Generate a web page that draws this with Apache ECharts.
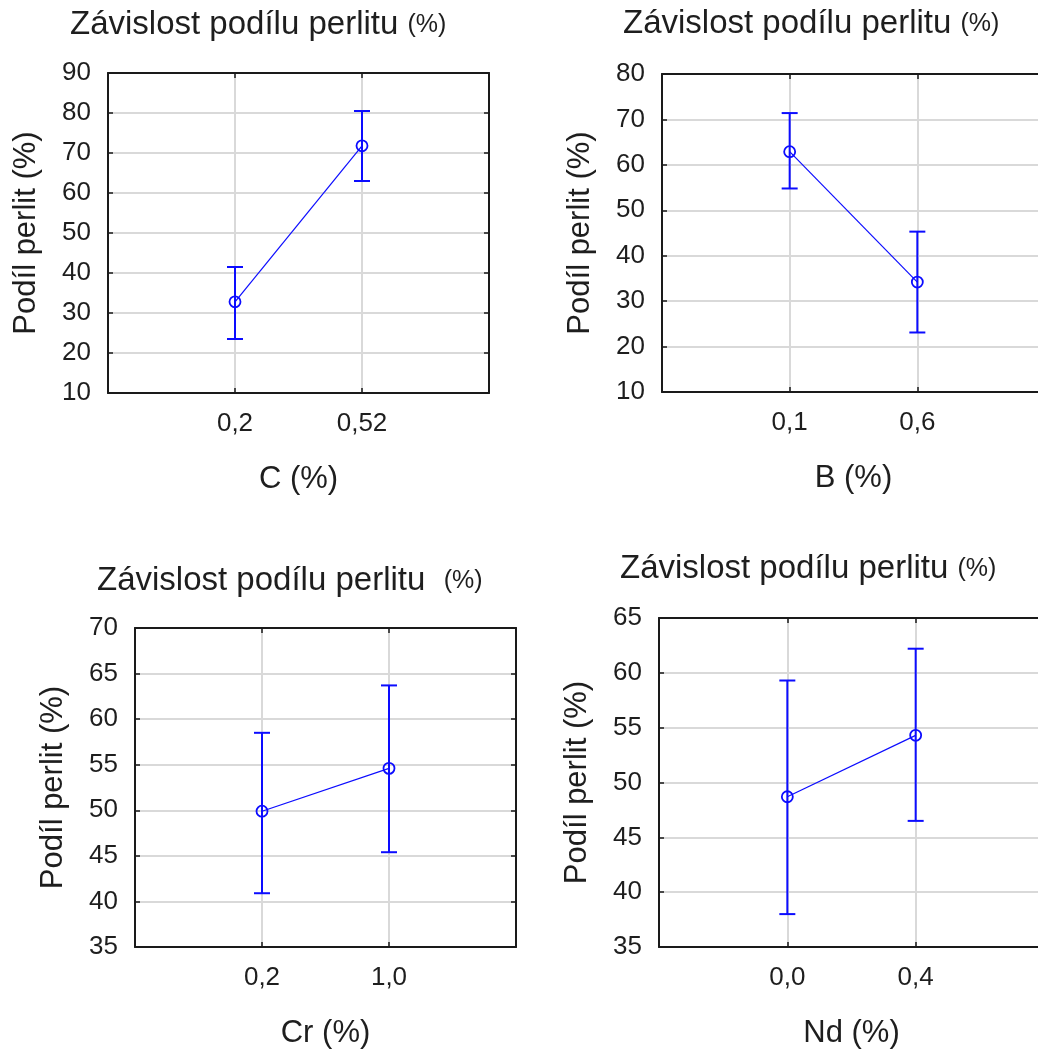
<!DOCTYPE html>
<html>
<head>
<meta charset="utf-8">
<script src="https://cdn.jsdelivr.net/npm/echarts@6/dist/echarts.min.js"></script>
<style>
html,body{margin:0;padding:0;background:#fff;}
#chart{width:1038px;height:1050px;}
</style>
</head>
<body>
<div id="chart"></div>
<script>
// ---- data ----
const titleText = 'Závislost podílu perlitu';
const yName = 'Podíl perlit (%)';

const cCats = ['0,2', '0,52'];
const cMean = [32.8, 71.8];
const cLow  = [23.5, 63.0];
const cHigh = [41.5, 80.5];

const bCats = ['0,1', '0,6'];
const bMean = [62.9, 34.2];
const bLow  = [54.8, 23.1];
const bHigh = [71.4, 45.3];

const crCats = ['0,2', '1,0'];
const crMean = [49.9, 54.6];
const crLow  = [40.9, 45.4];
const crHigh = [58.5, 63.7];

const ndCats = ['0,0', '0,4'];
const ndMean = [48.7, 54.3];
const ndLow  = [38.0, 46.5];
const ndHigh = [59.3, 62.2];

const panels = [
  {cats: cCats, mean: cMean, low: cLow, high: cHigh, xName: 'C (%)', yMin: 10, yMax: 90, yStep: 10,
   grid: {left: 108, top: 73, width: 381, height: 320}, title: {left: 70, top: 7}, titleSep: ' '},
  {cats: bCats, mean: bMean, low: bLow, high: bHigh, xName: 'B (%)', yMin: 10, yMax: 80, yStep: 10,
   grid: {left: 662, top: 74, width: 383, height: 318}, title: {left: 623, top: 6}, titleSep: ' '},
  {cats: crCats, mean: crMean, low: crLow, high: crHigh, xName: 'Cr (%)', yMin: 35, yMax: 70, yStep: 5,
   grid: {left: 135, top: 628, width: 381, height: 319}, title: {left: 97, top: 563}, titleSep: '  '},
  {cats: ndCats, mean: ndMean, low: ndLow, high: ndHigh, xName: 'Nd (%)', yMin: 35, yMax: 65, yStep: 5,
   grid: {left: 659, top: 618, width: 385, height: 329}, title: {left: 620, top: 551}, titleSep: ' '}
];

const FONT = '"Liberation Sans", Arial, sans-serif';
const TXT = '#1e1e1e';
const BLUE = '#0c0cff';

const option = {
  backgroundColor: '#ffffff',
  animation: false,
  title: [], grid: [], xAxis: [], yAxis: [], series: []
};

panels.forEach((p, i) => {
  const axisCats = [''].concat(p.cats).concat(['']);
  option.title.push({
    left: p.title.left, top: p.title.top, padding: 0,
    text: titleText + p.titleSep + '{s|(%)}',
    textStyle: {fontFamily: FONT, fontSize: 33, fontWeight: 'normal', color: TXT, lineHeight: 36,
      rich: {s: {fontFamily: FONT, fontSize: 25, color: TXT}}}
  });
  option.grid.push(Object.assign({containLabel: false, outerBoundsMode: 'none'}, p.grid));
  const edgeHide = (idx, val) => val !== '';
  // bottom x axis
  option.xAxis.push({
    type: 'category', gridIndex: i, position: 'bottom', data: axisCats, boundaryGap: false, z: 3,
    name: p.xName, nameLocation: 'middle', nameGap: 71,
    nameTextStyle: {fontFamily: FONT, fontSize: 31, color: TXT},
    axisLine: {lineStyle: {color: '#1a1a1a', width: 2}},
    axisTick: {inside: true, length: 5, interval: edgeHide, lineStyle: {color: '#1a1a1a', width: 1.5}},
    axisLabel: {interval: 0, margin: 18, fontFamily: FONT, fontSize: 26, color: TXT},
    splitLine: {show: true, interval: edgeHide, lineStyle: {color: '#d9d9d9', width: 2}}
  });
  // top mirror x axis
  option.xAxis.push({
    type: 'category', gridIndex: i, position: 'top', data: axisCats, boundaryGap: false, z: 3,
    axisLine: {lineStyle: {color: '#1a1a1a', width: 2}},
    axisTick: {inside: true, length: 5, interval: edgeHide, lineStyle: {color: '#1a1a1a', width: 1.5}},
    axisLabel: {show: false}, splitLine: {show: false}
  });
  // left y axis
  option.yAxis.push({
    type: 'value', gridIndex: i, position: 'left', min: p.yMin, max: p.yMax, interval: p.yStep, z: 1,
    name: yName, nameLocation: 'middle', nameGap: 66,
    nameTextStyle: {fontFamily: FONT, fontSize: 31, color: TXT},
    axisLine: {show: true, lineStyle: {color: '#1a1a1a', width: 2}},
    axisTick: {show: true, inside: true, length: 5, lineStyle: {color: '#1a1a1a', width: 1.5}},
    axisLabel: {margin: 17, fontFamily: FONT, fontSize: 26, color: TXT},
    splitLine: {show: true, lineStyle: {color: '#d9d9d9', width: 2}}
  });
  // right mirror y axis
  option.yAxis.push({
    type: 'value', gridIndex: i, position: 'right', min: p.yMin, max: p.yMax, interval: p.yStep, z: 3,
    axisLine: {show: true, lineStyle: {color: '#1a1a1a', width: 2}},
    axisTick: {show: true, inside: true, length: 5, lineStyle: {color: '#1a1a1a', width: 1.5}},
    axisLabel: {show: false}, splitLine: {show: false}
  });
  const xi = i * 2, yi = i * 2;
  option.series.push({
    type: 'line', xAxisIndex: xi, yAxisIndex: yi, z: 4,
    data: p.cats.map((c, k) => [c, p.mean[k]]),
    lineStyle: {color: BLUE, width: 1.2},
    symbol: 'circle', symbolSize: 11,
    itemStyle: {color: 'rgba(255,255,255,0)', borderColor: BLUE, borderWidth: 1.8}
  });
  option.series.push({
    type: 'custom', xAxisIndex: xi, yAxisIndex: yi, z: 5,
    data: p.cats.map((c, k) => [c, p.low[k], p.high[k]]),
    renderItem: function (params, api) {
      const x = api.value(0);
      const pHi = api.coord([x, api.value(2)]);
      const pLo = api.coord([x, api.value(1)]);
      const hw = 8;
      const st = {stroke: BLUE, lineWidth: 2, fill: null};
      return {type: 'group', children: [
        {type: 'line', shape: {x1: pHi[0], y1: pHi[1], x2: pLo[0], y2: pLo[1]}, style: st},
        {type: 'line', shape: {x1: pHi[0] - hw, y1: pHi[1], x2: pHi[0] + hw, y2: pHi[1]}, style: st},
        {type: 'line', shape: {x1: pLo[0] - hw, y1: pLo[1], x2: pLo[0] + hw, y2: pLo[1]}, style: st}
      ]};
    }
  });
});

const chart = echarts.init(document.getElementById('chart'), null, {renderer: 'canvas'});
chart.setOption(option);
</script>
</body>
</html>
